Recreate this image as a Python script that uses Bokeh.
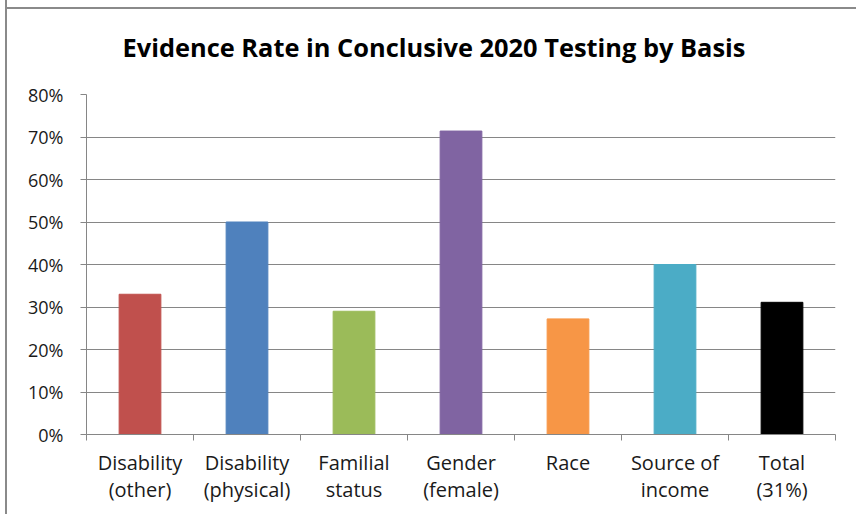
import numpy as np
from bokeh.plotting import figure
from bokeh.models import Range1d, FixedTicker, NumeralTickFormatter, ColumnDataSource
from bokeh.embed import file_html
from bokeh.resources import INLINE

title_text = "Evidence Rate in Conclusive 2020 Testing by Basis"
categories = ["Disability\n(other)", "Disability\n(physical)", "Familial\nstatus",
              "Gender\n(female)", "Race", "Source of\nincome", "Total\n(31%)"]
rates = [0.33, 0.50, 0.29, 0.714, 0.272, 0.40, 0.311]
colors = ["#C0504D", "#4F81BD", "#9BBB59", "#8064A2", "#F79646", "#4BACC6", "#000000"]
y_ticks = [0.0, 0.1, 0.2, 0.3, 0.4, 0.5, 0.6, 0.7, 0.8]

positions = (np.arange(len(categories)) + 0.5).tolist()
boundaries = list(range(len(categories) + 1))

src = ColumnDataSource(dict(x=positions, top=rates, color=colors))

W, H = 849, 514
p = figure(width=W, height=H, output_backend="svg", toolbar_location=None,
           x_range=Range1d(0, len(categories)), y_range=Range1d(0, 0.8),
           min_border_left=79, min_border_right=21, min_border_top=94, min_border_bottom=80)
p.border_fill_color = None
p.background_fill_color = "white"
p.styles = {"margin-left": "7px", "margin-top": "0px",
            "box-shadow": "-2px 0px 0px 0px #8a8a8a",
            "background-color": "white",
            "background-image": "linear-gradient(#8a8a8a, #8a8a8a)",
            "background-size": "100% 2px",
            "background-position": "0px 7px",
            "background-repeat": "no-repeat"}

p.title.text = title_text
p.title.align = "left"
p.title.offset = 36
p.title.vertical_align = "top"
p.title.text_font = "Open Sans"
p.title.text_font_style = "bold"
p.title.text_font_size = "25.4px"
p.title.text_color = "#000000"
p.title.standoff = 57

p.vbar(x="x", top="top", width=0.39, color="color", source=src)

p.outline_line_color = None
p.xgrid.visible = False
p.ygrid.grid_line_color = "#868686"
p.ygrid.grid_line_width = 1

xa = p.xaxis[0]
xa.ticker = FixedTicker(ticks=positions, minor_ticks=boundaries)
xa.major_label_overrides = {pos: lab for pos, lab in zip(positions, categories)}
xa.major_tick_line_color = None
xa.minor_tick_line_color = "#868686"
xa.minor_tick_out = 6
xa.minor_tick_in = 0
xa.axis_line_color = "#868686"
xa.major_label_text_font = "Open Sans"
xa.major_label_text_font_size = "20px"
xa.major_label_text_color = "#1a1a1a"
xa.major_label_text_line_height = 1.03
xa.major_label_standoff = 8

ya = p.yaxis[0]
ya.ticker = FixedTicker(ticks=y_ticks)
ya.formatter = NumeralTickFormatter(format="0%")
ya.major_tick_out = 6
ya.major_tick_in = 0
ya.minor_tick_line_color = None
ya.axis_line_color = "#868686"
ya.major_tick_line_color = "#868686"
ya.major_label_text_font = "Open Sans"
ya.major_label_text_font_size = "18px"
ya.major_label_text_color = "#1a1a1a"
ya.major_label_standoff = 17

open("out.html", "w").write(file_html(p, INLINE))
